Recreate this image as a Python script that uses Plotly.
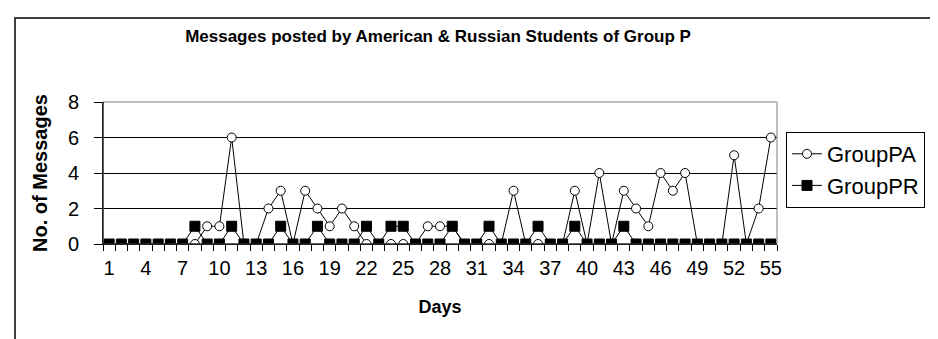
import plotly.graph_objects as go

days = list(range(1, 56))
group_pa = [0, 0, 0, 0, 0, 0, 0, 0, 1, 1,
            6, 0, 0, 2, 3, 0, 3, 2, 1, 2,
            1, 0, 0, 0, 0, 0, 1, 1, 1, 0,
            0, 0, 0, 3, 0, 0, 0, 0, 3, 0,
            4, 0, 3, 2, 1, 4, 3, 4, 0, 0,
            0, 5, 0, 2, 6]
group_pr = [0, 0, 0, 0, 0, 0, 0, 1, 0, 0,
            1, 0, 0, 0, 1, 0, 0, 1, 0, 0,
            0, 1, 0, 1, 1, 0, 0, 0, 1, 0,
            0, 1, 0, 0, 0, 1, 0, 0, 1, 0,
            0, 0, 1, 0, 0, 0, 0, 0, 0, 0,
            0, 0, 0, 0, 0]
x_tick_labels = [str(d) for d in range(1, 56, 3)]
y_ticks = [0, 2, 4, 6, 8]

FONT = "Arial, Liberation Sans, sans-serif"

fig = go.Figure()
fig.add_trace(go.Scatter(
    x=days, y=group_pa, name="GroupPA", mode="lines+markers",
    line=dict(color="black", width=1),
    marker=dict(symbol="circle", size=9, color="white",
                line=dict(color="black", width=1)),
))
fig.add_trace(go.Scatter(
    x=days, y=group_pr, name="GroupPR", mode="lines+markers",
    line=dict(color="black", width=1),
    marker=dict(symbol="square", size=10, color="black",
                line=dict(color="black", width=1)),
))

W, H = 938, 339
ml, mr, mt, mb = 95, 169, 94, 103
pw, ph = W - ml - mr, H - mt - mb

def px_x(p):
    return (p - ml) / pw

def px_y(p):
    return (H - mb - p) / ph

fig.update_layout(
    width=W, height=H,
    margin=dict(l=ml, r=mr, t=mt, b=mb, pad=0),
    paper_bgcolor="white", plot_bgcolor="white",
    font=dict(family=FONT, size=19, color="black"),
    title=dict(text="<b>Messages posted by American & Russian Students of Group P</b>",
               x=px_x(430), xref="paper", xanchor="center",
               y=1 - 28 / H, yanchor="middle",
               font=dict(size=17, family=FONT)),
    showlegend=True,
    legend=dict(x=px_x(778), y=px_y(124), xanchor="left", yanchor="top",
                bordercolor="black", borderwidth=1, bgcolor="white",
                font=dict(size=22, family=FONT), tracegroupgap=0),
    xaxis=dict(
        range=[0.5, 55.5], tickmode="array",
        tickvals=list(range(1, 56, 3)), ticktext=x_tick_labels,
        ticks="", showgrid=False, zeroline=False,
        showline=True, linecolor="black", linewidth=1,
        ticklabelstandoff=6,
        minor=dict(tick0=0.5, dtick=1, ticks="outside", ticklen=6,
                   tickcolor="black", showgrid=False),
        title=dict(text="<b>Days</b>", font=dict(size=18), standoff=22),
        tickfont=dict(size=20),
    ),
    yaxis=dict(
        range=[0, 8], tickmode="array", tickvals=y_ticks,
        ticks="outside", ticklen=8, tickcolor="black",
        ticklabelstandoff=11,
        showgrid=True, gridcolor="black", gridwidth=1, zeroline=False,
        showline=True, linecolor="black", linewidth=1,
        title=dict(text="<b>No. of Messages</b>", font=dict(size=20), standoff=14),
        tickfont=dict(size=20),
    ),
    shapes=[
        dict(type="rect", xref="paper", yref="paper", x0=0, x1=1, y0=0, y1=1,
             line=dict(color="#808080", width=1), layer="above"),
        dict(type="line", xref="paper", yref="paper", x0=0, x1=0, y0=0, y1=1,
             line=dict(color="black", width=1), layer="above"),
        dict(type="line", xref="paper", yref="paper", x0=0, x1=1, y0=0, y1=0,
             line=dict(color="black", width=1), layer="above"),
        dict(type="rect", xref="paper", yref="paper",
             x0=px_x(7), x1=px_x(960), y0=px_y(360), y1=px_y(10),
             line=dict(color="#404040", width=2), layer="below"),
    ],
)

fig.write_html("out.html")
